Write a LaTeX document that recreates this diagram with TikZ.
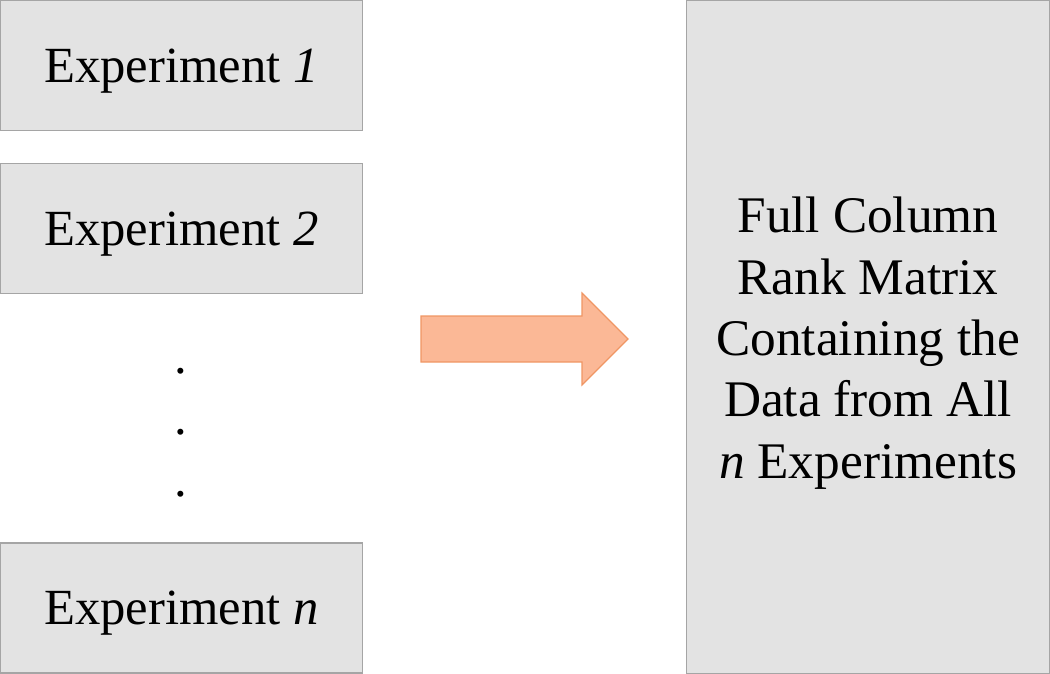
\documentclass[tikz,border=0pt]{standalone}
\usepackage{fontspec}
\setmainfont{Liberation Serif}
\usetikzlibrary{positioning}

\begin{document}
\begin{tikzpicture}[x=0.75pt,y=0.75pt,yscale=-1,xscale=1]
\useasboundingbox (0,0) rectangle (1050,674); %diagram is 1050 wide and 674 high

\tikzset{
  expbox/.style={draw={rgb, 255:red, 165; green, 165; blue, 165 }, fill={rgb, 255:red, 227; green, 227; blue, 227 }, line width=0.9pt, inner sep=0pt, outer sep=0pt, minimum width=271.5pt, minimum height=97.5pt, font=\fontsize{38}{46}\selectfont, text height=25pt, text depth=0pt},
  bigbox/.style={draw={rgb, 255:red, 165; green, 165; blue, 165 }, fill={rgb, 255:red, 227; green, 227; blue, 227 }, line width=0.9pt, inner sep=0pt, outer sep=0pt, minimum width=272.25pt, minimum height=504.75pt},
}

%Shape: Rectangle
\node [expbox] (exp1) at (181.5,65.5) {Experiment \textit{1}};
%Shape: Rectangle
\node [expbox] (exp2) at (181.5,228.5) {Experiment \textit{2}};
%Shape: Rectangle
\node [expbox] (expn) at (181.5,608) {Experiment \textit{n}};

% Text Node
\foreach \y/\name in {373/dota,434/dotb,496/dotc}
  \node [anchor=base, inner sep=0pt, font=\fontsize{38}{46}\selectfont] (\name) at (181,\y) {.};

%Shape: Right Arrow
\draw [color={rgb, 255:red, 240; green, 150; blue, 100 }, fill={rgb, 255:red, 251; green, 184; blue, 150 }, line width=0.9pt, line join=miter]
  (421,316) -- (582,316) -- (582,293) -- (628,339) -- (582,385) -- (582,362) -- (421,362) -- cycle ;

%Shape: Rectangle
\node [bigbox] (full) at (868,337) {};
% Text Node
\node [align=center, inner sep=0pt, font=\fontsize{38.5}{46}\selectfont] (fulltext) at (868,343) {Full Column\\Rank Matrix\\Containing the\\Data from All\\\textit{n} Experiments};

\end{tikzpicture}
\end{document}
